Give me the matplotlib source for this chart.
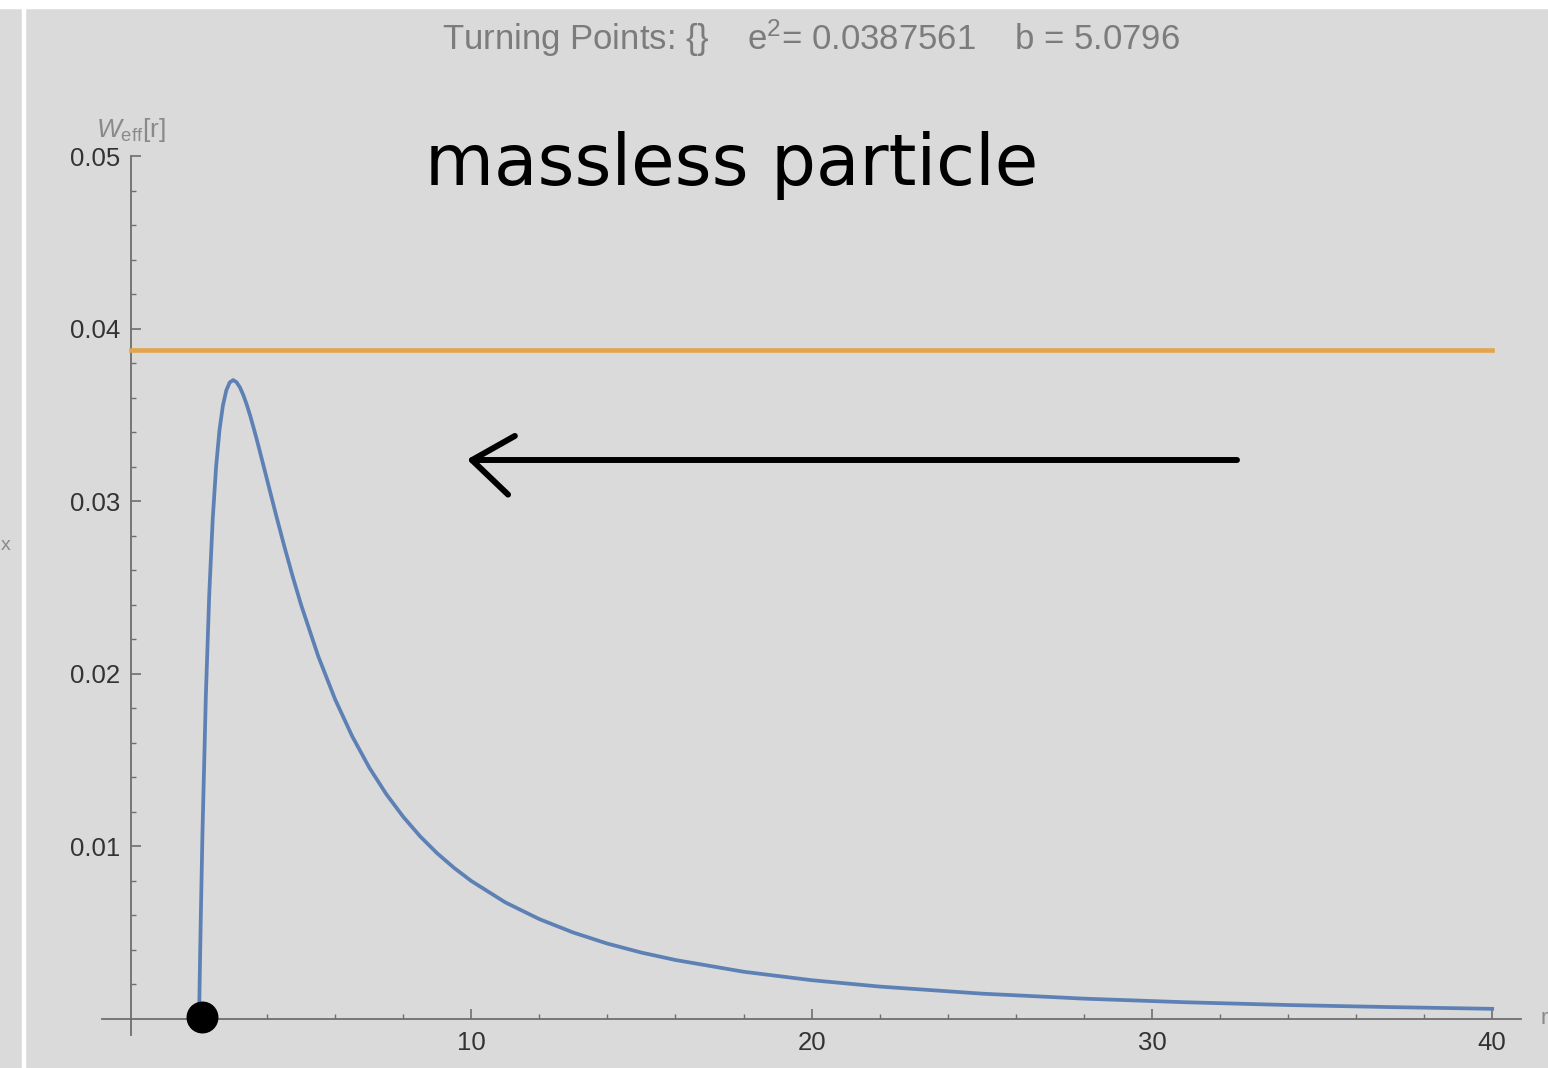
import matplotlib.pyplot as plt
from matplotlib.ticker import FixedLocator
from matplotlib.patches import Rectangle

plt.rcParams['font.family'] = ['Liberation Sans', 'DejaVu Sans']
plt.rcParams['mathtext.fontset'] = 'custom'
plt.rcParams['mathtext.rm'] = 'Liberation Sans'
plt.rcParams['mathtext.it'] = 'Liberation Sans:italic'

# W_eff[r]
r_vals = [2.0, 2.01, 2.02, 2.03, 2.05,
          2.1, 2.2, 2.3, 2.4, 2.5, 2.6, 2.7, 2.8, 2.9, 3.0,
          3.1, 3.2, 3.3, 3.4, 3.5, 3.6, 3.7, 3.8,
          4.0, 4.25, 4.5, 4.75, 5.0,
          5.5, 6.0, 6.5, 7.0, 7.5, 8.0, 8.5, 9.0, 9.5, 10,
          11, 12, 13, 14, 15, 16,
          18, 20, 22, 25, 28, 31, 34, 37, 40]
w_vals = [0.0, 0.00123, 0.00243, 0.00359, 0.00580,
          0.01080, 0.01878, 0.02466, 0.02894, 0.0320, 0.03414, 0.03556,
          0.03644, 0.03690, 0.03704,
          0.03692, 0.03662, 0.03617, 0.03562, 0.03499, 0.03429, 0.03356,
          0.03280,
          0.03125, 0.02931, 0.02744, 0.02566, 0.0240,
          0.02104, 0.01852, 0.01639, 0.01458, 0.01304, 0.01172, 0.01058,
          0.00960, 0.00875, 0.0080,
          0.00676, 0.00579, 0.00501, 0.00437, 0.00385, 0.00342,
          0.00274, 0.00225, 0.00188, 0.00147, 0.00118, 0.00097, 0.00081,
          0.00069, 0.00059]

# energy level (orange line)
e2 = 0.0387561
b = 5.0796
e_range = [0, 40]

xticks = [10, 20, 30, 40]
xminor = [2, 4, 6, 8, 12, 14, 16, 18, 22, 24, 26, 28, 32, 34, 36, 38]
yticks = [0.01, 0.02, 0.03, 0.04, 0.05]
ylabels = ['0.01', '0.02', '0.03', '0.04', '0.05']
yminor = [0.002 * k for k in range(1, 25) if k % 5 != 0]

# hand drawn annotations
blob = (2.09, 0.0001)
arrow_x = [32.5, 10.02]
arrow_y = [0.0324, 0.0324]
head_x = [11.28, 10.02, 11.08]
head_y = [0.0338, 0.0324, 0.0304]

bg = '#dadada'
axcol = '#6e6e6e'

fig = plt.figure(figsize=(15.48, 10.68), dpi=100)
fig.patch.set_facecolor(bg)
ax = fig.add_axes([0, 0, 1, 1])
ax.set_facecolor(bg)
ax.set_xlim(-3.8496, 41.639)
ax.set_ylim(-0.0028406, 0.059072)

for s in ['top', 'right']:
    ax.spines[s].set_visible(False)
ax.spines['left'].set_position(('data', 0))
ax.spines['bottom'].set_position(('data', 0))
ax.spines['left'].set_bounds(-0.00093, 0.05)
ax.spines['bottom'].set_bounds(-0.85, 40.85)
for s in ['left', 'bottom']:
    ax.spines[s].set_color(axcol)
    ax.spines[s].set_linewidth(1.3)

ax.set_xticks(xticks)
ax.set_xticklabels([str(t) for t in xticks])
ax.xaxis.set_minor_locator(FixedLocator(xminor))
ax.set_yticks(yticks)
ax.set_yticklabels(ylabels)
ax.yaxis.set_minor_locator(FixedLocator(yminor))
ax.tick_params(which='major', direction='in', length=7.5, width=1.2,
               color=axcol, labelcolor='#333333', labelsize=18.5)
ax.tick_params(axis='x', which='major', pad=8.5)
ax.tick_params(axis='y', which='major', pad=8)
ax.tick_params(which='minor', direction='in', length=3.8, width=1.0,
               color=axcol)

ax.plot(e_range, [e2, e2], color='#E2A54A', lw=3.3, zorder=3)
ax.plot(r_vals, w_vals, color='#5E81B5', lw=2.7, zorder=4)

ax.text(0, 0.0507, r'$W_{\mathrm{eff}}$[r]', ha='center', va='bottom',
        color='#8a8a8a', fontsize=19)
ax.text(41.43, 0, 'r', ha='left', va='center', color='#8a8a8a',
        fontsize=16)
fig.text(0.5 / 1548, 1 - 545 / 1068, 'x', ha='left', va='center',
         color='#8a8a8a', fontsize=14)

fig.text(811 / 1548, 1 - 38 / 1068,
         r'Turning Points: {}    $\mathregular{e^2}$= ' + str(e2)
         + '    b = ' + str(b),
         ha='center', va='center', color='#7c7c7c', fontsize=25)

# handwriting
fig.text(425 / 1548, 1 - 185 / 1068, 'massless particle', ha='left',
         va='baseline', color='black', fontsize=51, family='DejaVu Sans')
ax.plot(*blob, 'o', ms=22, color='black', zorder=6, clip_on=False)
ax.plot(arrow_x, arrow_y, color='black', lw=4.3, solid_capstyle='round',
        zorder=5)
ax.plot(head_x, head_y, color='black', lw=4.3, solid_capstyle='round',
        solid_joinstyle='round', zorder=5)

# white borders of the screenshot
fig.patches.append(Rectangle((0, 1 - 8 / 1068), 1, 8 / 1068,
                             transform=fig.transFigure, color='white'))
fig.patches.append(Rectangle((22 / 1548, 0), 3 / 1548, 1,
                             transform=fig.transFigure, color='white'))

plt.savefig('out.png', dpi=100, facecolor=bg)
